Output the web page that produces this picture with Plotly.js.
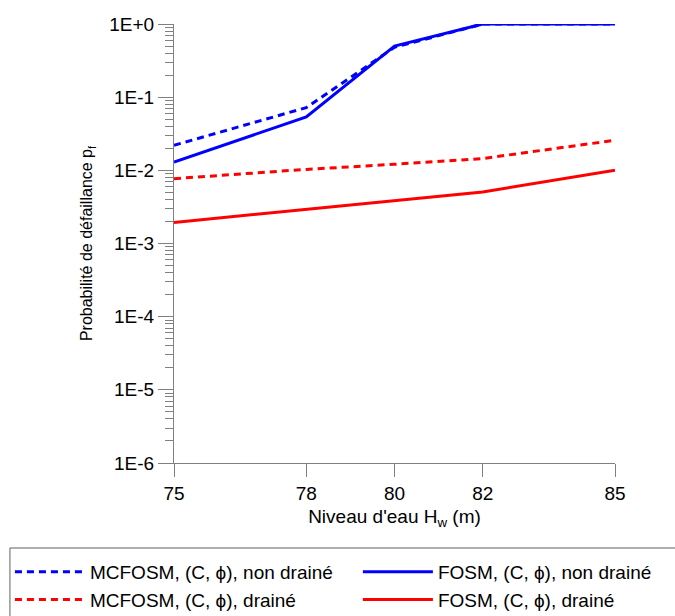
<!DOCTYPE html>
<html>
<head>
<meta charset="utf-8">
<script src="https://cdn.plot.ly/plotly-3.0.1.min.js"></script>
<style>
  html, body { margin: 0; padding: 0; background: #fff; }
  #chart { width: 675px; height: 616px; }
</style>
</head>
<body>
<div id="chart"></div>
<script>
// Water level (m)
const niveau = [75, 78, 80, 82, 85];

// Probability of failure p_f for each method / condition
const mcfosmNonDraine = [0.022, 0.072, 0.48, 1.0, 1.0];
const fosmNonDraine   = [0.013, 0.0536, 0.50, 1.0, 1.0];
const mcfosmDraine    = [0.0077, 0.0103, 0.0121, 0.0145, 0.0258];
const fosmDraine      = [0.00194, 0.00294, 0.0039, 0.00507, 0.0100];

// Series labels
const labels = [
  "MCFOSM, (C, \u03D5), non drainé",
  "FOSM, (C, \u03D5), non drainé",
  "MCFOSM, (C, \u03D5), drainé",
  "FOSM, (C, \u03D5), drainé"
];

// Axis tick labels
const yTickVals = [1e-6, 1e-5, 1e-4, 1e-3, 1e-2, 1e-1, 1];
const yTickText = ["1E-6", "1E-5", "1E-4", "1E-3", "1E-2", "1E-1", "1E+0"];
const xTickVals = [75, 78, 80, 82, 85];

// minor ticks at 2..9 within every decade
const minorVals = [];
for (let e = -6; e < 0; e++) {
  for (let m = 2; m <= 9; m++) minorVals.push(m * Math.pow(10, e));
}

const BLUE = "#0000ff", RED = "#ff0000";
const DOTS = "7px,5px";

// MCFOSM entries go in the left legend column, FOSM entries in the right one
const traces = [
  { x: niveau, y: mcfosmNonDraine, name: labels[0], legend: "legend",  line: { color: BLUE, width: 3, dash: DOTS } },
  { x: niveau, y: fosmNonDraine,   name: labels[1], legend: "legend2", line: { color: BLUE, width: 3 } },
  { x: niveau, y: mcfosmDraine,    name: labels[2], legend: "legend",  line: { color: RED, width: 3, dash: DOTS } },
  { x: niveau, y: fosmDraine,      name: labels[3], legend: "legend2", line: { color: RED, width: 3 } }
].map(t => Object.assign({ type: "scatter", mode: "lines" }, t));

const axisGrey = "#808080";
const family = "Liberation Sans, Arial, sans-serif";
const font = { family: family, size: 19, color: "#000" };
const yTitleFont = { family: family, size: 16, color: "#000" };

const legendCommon = {
  orientation: "v",
  xanchor: "left",
  yanchor: "top",
  y: -0.205,
  itemwidth: 70,
  bgcolor: "rgba(0,0,0,0)",
  borderwidth: 0,
  font: font,
  traceorder: "normal"
};

const layout = {
  width: 675,
  height: 616,
  margin: { l: 174, r: 60, t: 24, b: 153, autoexpand: false },
  paper_bgcolor: "#fff",
  plot_bgcolor: "#fff",
  font: font,
  showlegend: true,
  xaxis: {
    range: [75, 85],
    tickmode: "array",
    tickvals: xTickVals,
    ticks: "outside",
    ticklen: 13,
    tickcolor: axisGrey,
    showline: true,
    linecolor: axisGrey,
    linewidth: 1,
    showgrid: false,
    zeroline: false,
    tickfont: font,
    title: { text: "Niveau d'eau H<sub>w</sub> (m)", font: font, standoff: 6 }
  },
  yaxis: {
    type: "log",
    range: [-6, 0],
    tickmode: "array",
    tickvals: yTickVals,
    ticktext: yTickText,
    ticks: "outside",
    ticklen: 15,
    tickcolor: axisGrey,
    minor: { tickmode: "array", tickvals: minorVals, ticks: "outside", ticklen: 8, tickcolor: axisGrey, showgrid: false },
    showline: true,
    linecolor: axisGrey,
    linewidth: 1,
    showgrid: false,
    zeroline: false,
    tickfont: font,
    title: { text: "Probabilité de défaillance p<sub>f</sub>", font: yTitleFont, standoff: 12 }
  },
  legend: Object.assign({}, legendCommon, { x: -0.372 }),
  legend2: Object.assign({}, legendCommon, { x: 0.417 }),
  // frame around both legend columns
  shapes: [{
    type: "rect", xref: "paper", yref: "paper",
    x0: -0.372, x1: 1.25, y0: -0.1936, y1: -0.40,
    line: { color: "#606060", width: 1 },
    fillcolor: "rgba(0,0,0,0)",
    layer: "below"
  }]
};

Plotly.newPlot("chart", traces, layout, { staticPlot: true, displayModeBar: false });
</script>
</body>
</html>
